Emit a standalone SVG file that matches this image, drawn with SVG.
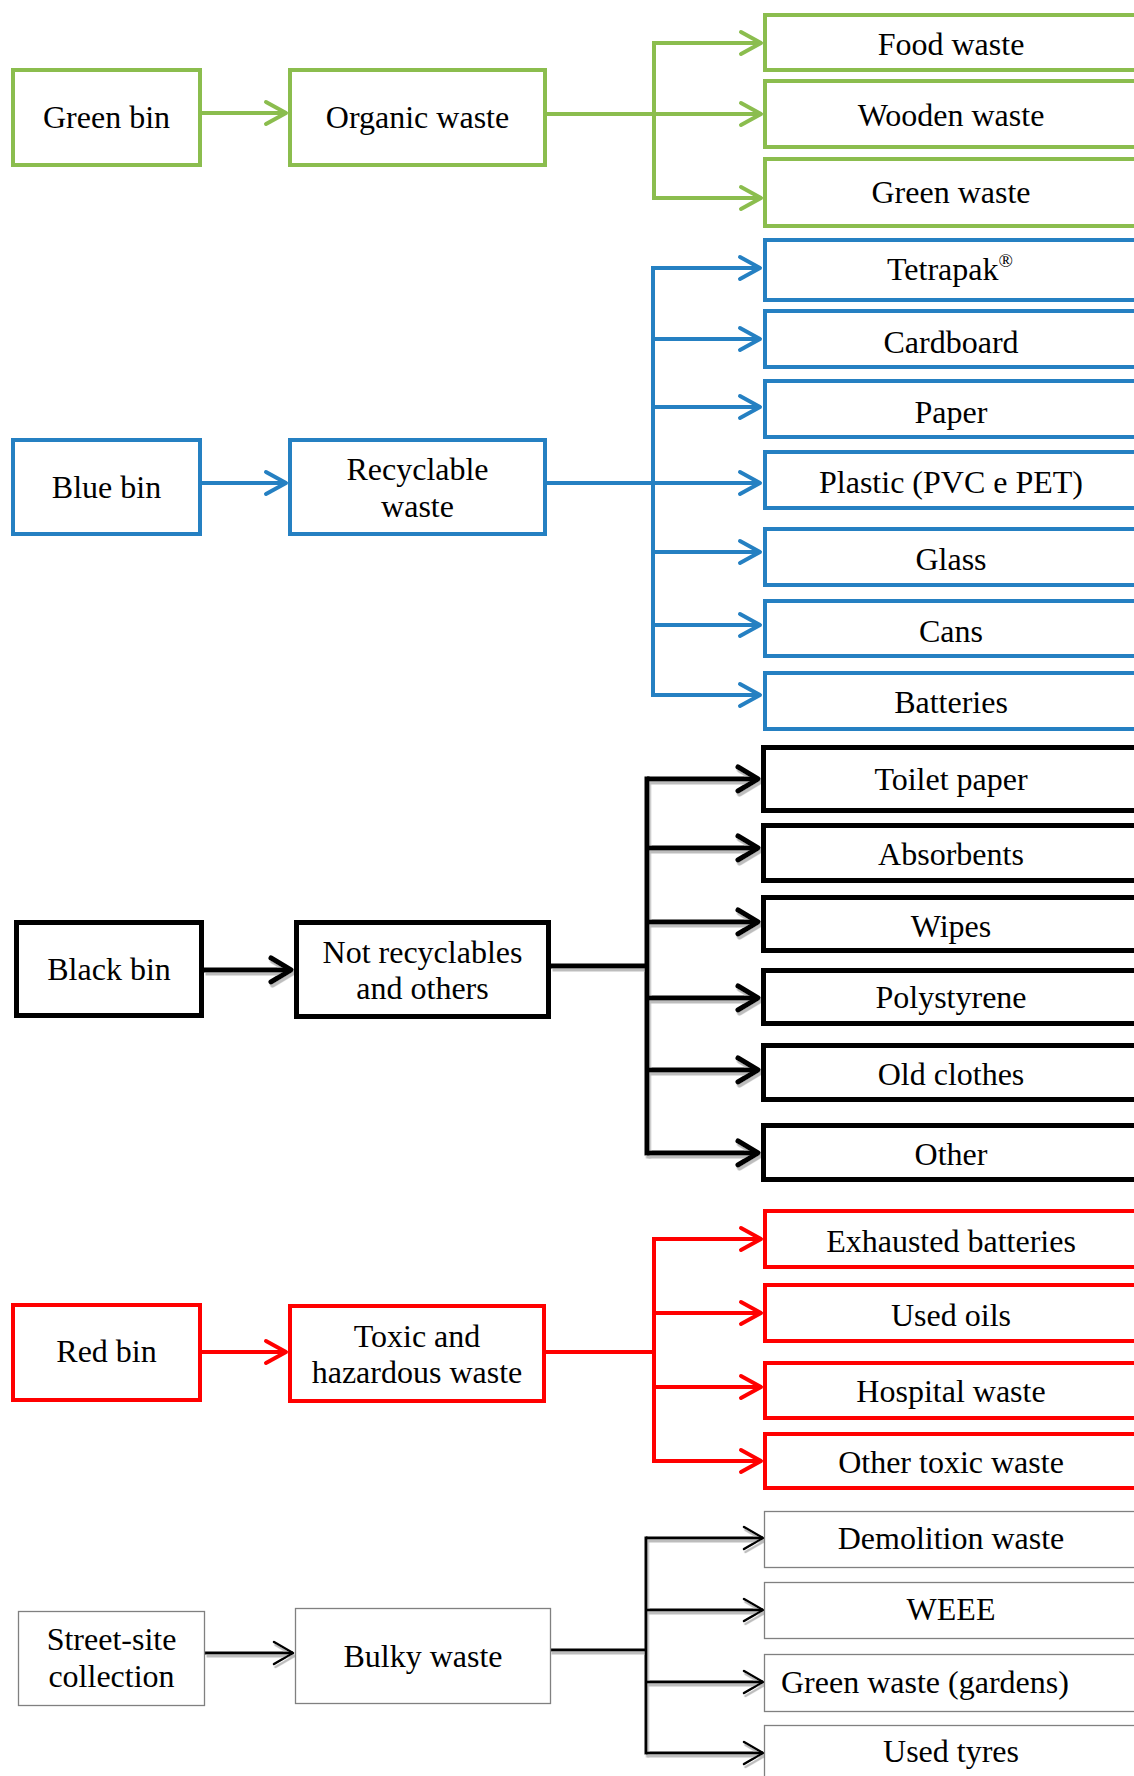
<svg xmlns="http://www.w3.org/2000/svg" width="1134" height="1776" viewBox="0 0 1134 1776">
<defs>
<style>
.t{font-family:"Liberation Serif","Times New Roman",serif;font-size:32px;fill:#000;text-anchor:middle}
.sup{font-size:19px}
.ng rect{fill:#fff;stroke:#8BBD4E;stroke-width:4}
.nb rect{fill:#fff;stroke:#2580C2;stroke-width:4}
.nk rect{fill:#fff;stroke:#000;stroke-width:5}
.nr rect{fill:#fff;stroke:#FF0000;stroke-width:4}
.ns rect{fill:#fff;stroke:#808080;stroke-width:1.3}
.cg path{fill:none;stroke:#8BBD4E;stroke-width:4}
.cb path{fill:none;stroke:#2580C2;stroke-width:4}
.ck path{fill:none;stroke:#000;stroke-width:5}
.cr path{fill:none;stroke:#FF0000;stroke-width:4}
.cs path{fill:none;stroke:#000;stroke-width:3}
.br{stroke-linecap:square}
</style>
<marker id="mg" markerUnits="userSpaceOnUse" viewBox="-26 -16 30 32" markerWidth="30" markerHeight="32" refX="0" refY="0" orient="auto" overflow="visible"><path d="M-20,-11 L0,0 L-20,11" fill="none" stroke="#8BBD4E" stroke-width="4" stroke-linecap="round" stroke-linejoin="round"/></marker>
<marker id="mb" markerUnits="userSpaceOnUse" viewBox="-26 -16 30 32" markerWidth="30" markerHeight="32" refX="0" refY="0" orient="auto" overflow="visible"><path d="M-20,-11 L0,0 L-20,11" fill="none" stroke="#2580C2" stroke-width="4" stroke-linecap="round" stroke-linejoin="round"/></marker>
<marker id="mk" markerUnits="userSpaceOnUse" viewBox="-26 -16 30 32" markerWidth="30" markerHeight="32" refX="0" refY="0" orient="auto" overflow="visible"><path d="M-20,-12 L0,0 L-20,12" fill="none" stroke="#000" stroke-width="5" stroke-linecap="round" stroke-linejoin="round"/></marker>
<marker id="mr" markerUnits="userSpaceOnUse" viewBox="-26 -16 30 32" markerWidth="30" markerHeight="32" refX="0" refY="0" orient="auto" overflow="visible"><path d="M-20,-11 L0,0 L-20,11" fill="none" stroke="#FF0000" stroke-width="4" stroke-linecap="round" stroke-linejoin="round"/></marker>
<marker id="ms" markerUnits="userSpaceOnUse" viewBox="-26 -16 30 32" markerWidth="30" markerHeight="32" refX="0" refY="0" orient="auto" overflow="visible"><path d="M-19,-11 L0,0 L-19,11" fill="none" stroke="#000" stroke-width="2.5" stroke-linecap="round" stroke-linejoin="round"/></marker>
<filter id="sh" filterUnits="userSpaceOnUse" x="0" y="0" width="1134" height="1776"><feDropShadow dx="1.5" dy="3" stdDeviation="0.6" flood-color="#bdbdbd" flood-opacity="1"/></filter>
</defs>
<rect x="0" y="0" width="1134" height="1776" fill="#fff"/>

<g id="connectors">
<g class="cg">
<path d="M202,113 H286" marker-end="url(#mg)"/>
<path d="M547,114 H654"/>
<path class="br" d="M654,43 V198"/>
<path d="M654,43 H761" marker-end="url(#mg)"/>
<path d="M654,114 H761" marker-end="url(#mg)"/>
<path d="M654,198 H761" marker-end="url(#mg)"/>
</g>
<g class="cb">
<path d="M202,483 H286" marker-end="url(#mb)"/>
<path d="M547,483 H653"/>
<path class="br" d="M653,268 V695"/>
<path d="M653,268 H760" marker-end="url(#mb)"/>
<path d="M653,339 H760" marker-end="url(#mb)"/>
<path d="M653,407 H760" marker-end="url(#mb)"/>
<path d="M653,483 H760" marker-end="url(#mb)"/>
<path d="M653,552 H760" marker-end="url(#mb)"/>
<path d="M653,625 H760" marker-end="url(#mb)"/>
<path d="M653,695 H760" marker-end="url(#mb)"/>
</g>
<g class="ck" filter="url(#sh)">
<path d="M204,970 H291" marker-end="url(#mk)"/>
<path d="M551,966 H647"/>
<path class="br" d="M647,779 V1153"/>
<path d="M647,779 H758" marker-end="url(#mk)"/>
<path d="M647,848 H758" marker-end="url(#mk)"/>
<path d="M647,922 H758" marker-end="url(#mk)"/>
<path d="M647,998 H758" marker-end="url(#mk)"/>
<path d="M647,1070 H758" marker-end="url(#mk)"/>
<path d="M647,1153 H758" marker-end="url(#mk)"/>
</g>
<g class="cr">
<path d="M202,1352 H286" marker-end="url(#mr)"/>
<path d="M546,1352 H654"/>
<path class="br" d="M654,1239 V1461"/>
<path d="M654,1239 H761" marker-end="url(#mr)"/>
<path d="M654,1313 H761" marker-end="url(#mr)"/>
<path d="M654,1387 H761" marker-end="url(#mr)"/>
<path d="M654,1461 H761" marker-end="url(#mr)"/>
</g>
<g class="cs" filter="url(#sh)">
<path d="M205,1653 H293" marker-end="url(#ms)"/>
<path d="M550,1650 H646"/>
<path class="br" d="M646,1538 V1753"/>
<path d="M646,1538 H763" marker-end="url(#ms)"/>
<path d="M646,1610 H763" marker-end="url(#ms)"/>
<path d="M646,1682 H763" marker-end="url(#ms)"/>
<path d="M646,1753 H763" marker-end="url(#ms)"/>
</g>
</g>

<g class="ng">
<g id="green-bin"><rect x="13" y="70" width="187" height="95"/><text class="t" x="106.5" y="128">Green bin</text></g>
<g id="organic-waste"><rect x="290" y="70" width="255" height="95"/><text class="t" x="417.5" y="128">Organic waste</text></g>
<g id="food-waste"><rect x="765" y="15" width="400" height="55"/><text class="t" x="951" y="55">Food waste</text></g>
<g id="wooden-waste"><rect x="765" y="81" width="400" height="66"/><text class="t" x="951" y="126">Wooden waste</text></g>
<g id="green-waste"><rect x="765" y="159" width="400" height="67"/><text class="t" x="951" y="203">Green waste</text></g>
</g>

<g class="nb">
<g id="blue-bin"><rect x="13" y="440" width="187" height="94"/><text class="t" x="106.5" y="498">Blue bin</text></g>
<g id="recyclable-waste"><rect x="290" y="440" width="255" height="94"/><text class="t" x="417.5" y="480">Recyclable</text><text class="t" x="417.5" y="517">waste</text></g>
<g id="tetrapak"><rect x="765" y="240" width="400" height="60"/><text class="t" x="950" y="280">Tetrapak<tspan class="sup" dy="-13">®</tspan></text></g>
<g id="cardboard"><rect x="765" y="311" width="400" height="56"/><text class="t" x="951" y="353">Cardboard</text></g>
<g id="paper"><rect x="765" y="381" width="400" height="56"/><text class="t" x="951" y="423">Paper</text></g>
<g id="plastic"><rect x="765" y="452" width="400" height="56"/><text class="t" x="951" y="493">Plastic (PVC e PET)</text></g>
<g id="glass"><rect x="765" y="529" width="400" height="56"/><text class="t" x="951" y="570">Glass</text></g>
<g id="cans"><rect x="765" y="601" width="400" height="55"/><text class="t" x="951" y="642">Cans</text></g>
<g id="batteries"><rect x="765" y="673" width="400" height="56"/><text class="t" x="951" y="713">Batteries</text></g>
</g>

<g class="nk">
<g id="black-bin"><rect x="16.5" y="922.5" width="185" height="93"/><text class="t" x="109" y="980">Black bin</text></g>
<g id="not-recyclables"><rect x="296.5" y="922.5" width="252" height="94"/><text class="t" x="422.5" y="963">Not recyclables</text><text class="t" x="422.5" y="999">and others</text></g>
<g id="toilet-paper"><rect x="763.5" y="747.5" width="400" height="63"/><text class="t" x="951" y="790">Toilet paper</text></g>
<g id="absorbents"><rect x="763.5" y="825.5" width="400" height="55"/><text class="t" x="951" y="865">Absorbents</text></g>
<g id="wipes"><rect x="763.5" y="897.5" width="400" height="53"/><text class="t" x="951" y="937">Wipes</text></g>
<g id="polystyrene"><rect x="763.5" y="970.5" width="400" height="53"/><text class="t" x="951" y="1008">Polystyrene</text></g>
<g id="old-clothes"><rect x="763.5" y="1045.5" width="400" height="54"/><text class="t" x="951" y="1085">Old clothes</text></g>
<g id="other"><rect x="763.5" y="1125.5" width="400" height="54"/><text class="t" x="951" y="1165">Other</text></g>
</g>

<g class="nr">
<g id="red-bin"><rect x="13" y="1305" width="187" height="95"/><text class="t" x="106.5" y="1362">Red bin</text></g>
<g id="toxic-waste"><rect x="290" y="1306" width="254" height="95"/><text class="t" x="417" y="1347">Toxic and</text><text class="t" x="417" y="1383">hazardous waste</text></g>
<g id="exhausted-batteries"><rect x="765" y="1211" width="400" height="56"/><text class="t" x="951" y="1252">Exhausted batteries</text></g>
<g id="used-oils"><rect x="765" y="1285" width="400" height="56"/><text class="t" x="951" y="1326">Used oils</text></g>
<g id="hospital-waste"><rect x="765" y="1363" width="400" height="55"/><text class="t" x="951" y="1402">Hospital waste</text></g>
<g id="other-toxic-waste"><rect x="765" y="1434" width="400" height="54"/><text class="t" x="951" y="1473">Other toxic waste</text></g>
</g>

<g class="ns">
<g id="street-site"><rect x="18.5" y="1611.5" width="186" height="94"/><text class="t" x="111.5" y="1650">Street-site</text><text class="t" x="111.5" y="1687">collection</text></g>
<g id="bulky-waste"><rect x="295.5" y="1608.5" width="255" height="95"/><text class="t" x="423" y="1667">Bulky waste</text></g>
<g id="demolition-waste"><rect x="764.5" y="1511.5" width="400" height="56"/><text class="t" x="951" y="1549">Demolition waste</text></g>
<g id="weee"><rect x="764.5" y="1582.5" width="400" height="56"/><text class="t" x="951" y="1620">WEEE</text></g>
<g id="green-waste-gardens"><rect x="764.5" y="1654.5" width="400" height="57"/><text class="t" x="781" y="1693" style="text-anchor:start">Green waste (gardens)</text></g>
<g id="used-tyres"><rect x="764.5" y="1725.5" width="400" height="100"/><text class="t" x="951" y="1762">Used tyres</text></g>
</g>
</svg>
